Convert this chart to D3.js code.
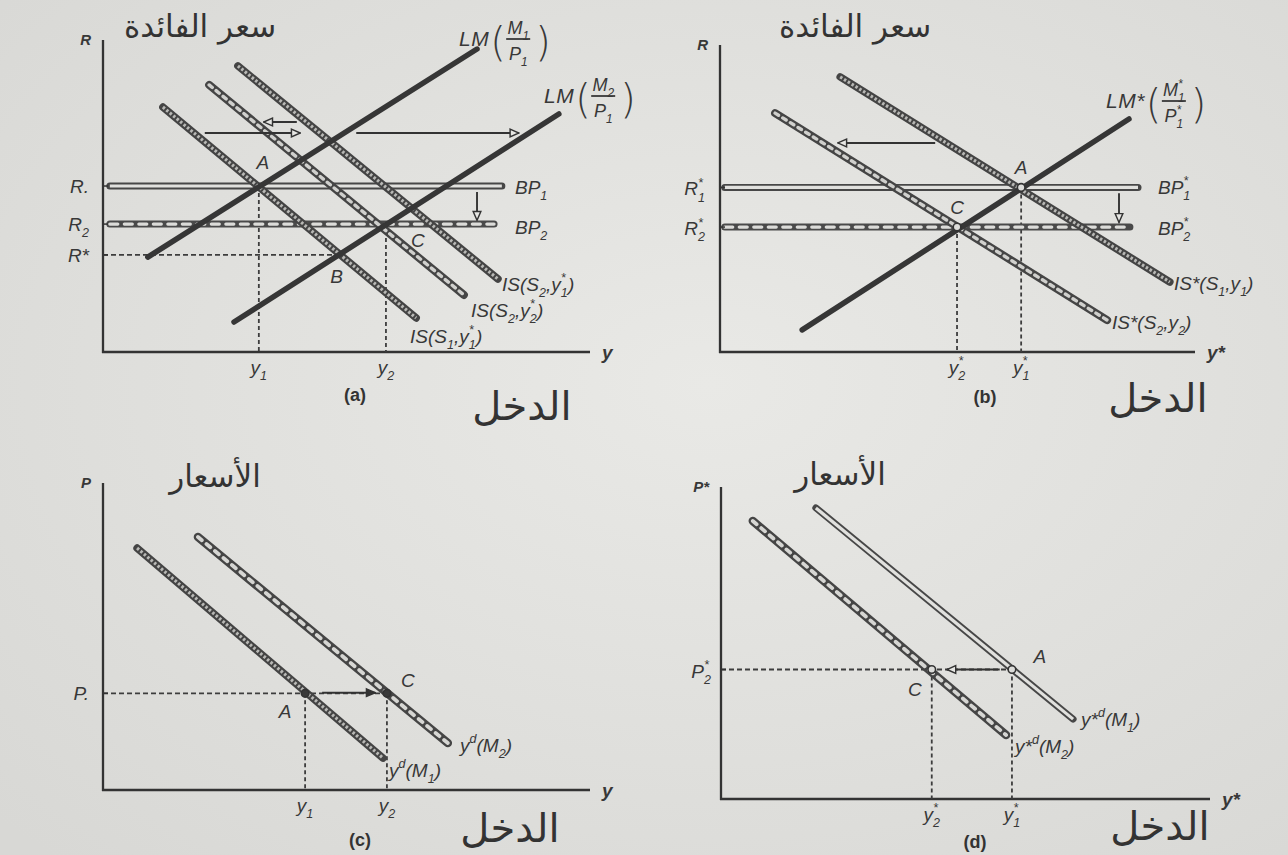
<!DOCTYPE html>
<html><head><meta charset="utf-8">
<script src="https://cdn.jsdelivr.net/npm/d3@7"></script>
<style>
html,body{margin:0;padding:0;background:#e3e3e0;}
svg{display:block;}
.lab{font-family:"Liberation Sans",Arial,sans-serif;font-style:italic;fill:#383838;}
.ar{font-family:"DejaVu Sans",sans-serif;fill:#333;}
.cap{font-family:"Liberation Sans",Arial,sans-serif;font-weight:bold;fill:#333;}
</style></head><body>
<svg id="chart" width="1288" height="855"></svg>
<script>
// ---------- Panel (a): home IS–LM–BP (income y, interest rate R) ----------
const aLM1   = [[0.92, 3.04], [7.68, 9.71]];
const aLM2   = [[2.69, 0.96], [9.36, 7.63]];
const aIS11  = [[1.23, 7.85], [6.43, 1.09]];   // IS(S1, y1*)
const aIS22  = [[2.18, 8.56], [7.41, 1.83]];   // IS(S2, y2*)
const aIS21  = [[2.77, 9.17], [8.11, 2.34]];   // IS(S2, y1*)
const aBP1   = [[0.14, 5.32], [8.19, 5.32]];
const aBP2   = [[0.14, 4.10], [8.03, 4.10]];
const aRates = [5.32, 4.10, 3.11];
const aRateLabels = ["R.", "R_2", "R*"];
const aIncomes = [3.20, 5.81];
const aIncomeLabels = ["y_1", "y_2"];
const aPoints = [["A", 3.20, 5.32], ["B", 4.86, 3.11], ["C", 5.81, 4.10]];

// ---------- Panel (b): foreign IS*–LM*–BP* ----------
const bIS1   = [[2.53, 8.96], [9.47, 2.28]];   // IS*(S1, y1)
const bIS2   = [[1.16, 7.78], [8.15, 1.04]];   // IS*(S2, y2)
const bLM    = [[1.73, 0.72], [8.61, 7.59]];
const bBP1   = [[0.10, 5.36], [8.80, 5.36]];
const bBP2   = [[0.10, 4.07], [8.63, 4.07]];
const bRates = [5.36, 4.07];
const bRateLabels = ["R_1^*", "R_2^*"];
const bIncomes = [4.99, 6.34];
const bIncomeLabels = ["y_2^*", "y_1^*"];
const bPoints = [["C", 4.99, 4.07], ["A", 6.34, 5.36]];

// ---------- Panel (c): home aggregate demand ----------
const cYd1   = [[0.70, 7.88], [5.75, 1.04]];   // y^d(M1)
const cYd2   = [[1.95, 8.24], [7.08, 1.53]];   // y^d(M2)
const cPrices = [3.15];
const cPriceLabels = ["P."];
const cIncomes = [4.15, 5.83];
const cIncomeLabels = ["y_1", "y_2"];
const cPoints = [["A", 4.15, 3.15], ["C", 5.83, 3.15]];

// ---------- Panel (d): foreign aggregate demand ----------
const dYd2   = [[0.65, 8.91], [5.83, 2.05]];   // y*d(M2)
const dYd1   = [[1.94, 9.33], [7.20, 2.56]];   // y*d(M1)
const dPrices = [4.15];
const dPriceLabels = ["P_2^*"];
const dIncomes = [4.31, 5.95];
const dIncomeLabels = ["y_2^*", "y_1^*"];
const dPoints = [["C", 4.31, 4.15], ["A", 5.95, 4.15]];

// shift arrows
const aShiftArrows = [[[2.09, 7.02], [4.05, 7.02]], [[5.20, 7.02], [8.54, 7.02]], [[3.98, 7.37], [3.30, 7.37]]];
const aBPDrop = [[7.68, 5.13], [7.68, 4.22]];
const bShiftArrows = [[[4.53, 6.81], [2.48, 6.81]]];
const bBPDrop = [[8.40, 5.17], [8.40, 4.22]];
const cShiftArrows = [[[4.50, 3.17], [5.59, 3.17]]];
const dShiftArrows = [[[5.70, 4.15], [4.62, 4.15]]];

const titleRate = "سعر الفائدة";
const titlePrice = "الأسعار";
const incomeWord = "الدخل";

// ---------------------------------------------------------------
const svg = d3.select("#chart");
const defs = svg.append("defs");

const bg = defs.append("radialGradient").attr("id", "paper").attr("cx", "55%").attr("cy", "45%").attr("r", "75%");
bg.append("stop").attr("offset", "0%").attr("stop-color", "#e9e9e6");
bg.append("stop").attr("offset", "100%").attr("stop-color", "#d8d8d5");
svg.append("rect").attr("width", 1288).attr("height", 855).attr("fill", "url(#paper)");

function marker(id, hollow) {
  defs.append("marker").attr("id", id).attr("viewBox", "0 0 10 10").attr("refX", 9).attr("refY", 5)
    .attr("markerWidth", 11).attr("markerHeight", 11).attr("markerUnits", "userSpaceOnUse").attr("orient", "auto")
    .append("path").attr("d", "M1,1.5 L9,5 L1,8.5 Z")
    .attr("fill", hollow ? "#e6e6e3" : "#333").attr("stroke", "#333").attr("stroke-width", 1.3);
}
marker("headOpen", true);
marker("headSolid", false);

// stroke recipes for the textured curves (outer casing + inner pattern)
const styles = {
  solid:  [{c: "#363636", w: 5.5}],
  hatch:  [{c: "#444", w: 7.5}, {c: "#b8b8b5", w: 3.2, dash: "2.5 2"}],
  chain:  [{c: "#454545", w: 8},   {c: "#d0d0cd", w: 3.4, dash: "4 5", cap: "round"}],
  links:  [{c: "#454545", w: 8.5}, {c: "#d6d6d3", w: 3.8, dash: "5 6", cap: "round"}],
  long:   [{c: "#4a4a4a", w: 7},   {c: "#dcdcd9", w: 3.2, dash: "8 6.5", cap: "round"}],
  double: [{c: "#474747", w: 7},   {c: "#e1e1de", w: 3.2}]
};

function panel(frame) {
  const x = d3.scaleLinear().domain([0, 10]).range([frame.x0, frame.x0 + frame.w]);
  const y = d3.scaleLinear().domain([0, 10]).range([frame.y0, frame.y0 - frame.h]);
  const g = svg.append("g");
  const line = d3.line().x(d => x(d[0])).y(d => y(d[1]));
  return {x, y, g, line, frame};
}

function axes(p, yName, xName) {
  const {x, y, g} = p;
  g.append("line").attr("x1", x(0)).attr("x2", x(0)).attr("y1", y(0) + 1).attr("y2", y(10))
    .attr("stroke", "#333").attr("stroke-width", 2.3);
  g.append("line").attr("x1", x(0) - 1).attr("x2", x(10)).attr("y1", y(0)).attr("y2", y(0))
    .attr("stroke", "#333").attr("stroke-width", 2.3);
  rich(g, x(0) - 12, y(10) + 5, yName, 15, "end").attr("font-weight", "bold");
  rich(g, x(10) + 12, y(0) + 7, xName, 19, "start").attr("font-weight", "bold");
}

// text with "_c" subscripts and "^c" superscripts (a "^" right after a subscript stacks above it)
function rich(parent, px, py, str, size, anchor) {
  const t = parent.append("text").attr("class", "lab").attr("x", px).attr("y", py)
    .attr("font-size", size).attr("text-anchor", anchor || "start");
  let off = 0, i = 0, pendingDx = 0;
  while (i < str.length) {
    const c = str[i];
    if ((c === "_" || c === "^") && i + 1 < str.length) {
      const ch = str[i + 1];
      const target = c === "_" ? size * 0.32 : -size * 0.45;
      const stacked = c === "^" && i >= 2 && str[i - 2] === "_";
      t.append("tspan").attr("dy", target - off).attr("dx", stacked ? -size * 0.37 : 0)
        .attr("font-size", size * 0.66).text(ch);
      if (stacked) pendingDx = size * 0.13;
      off = target; i += 2;
    } else {
      let j = i;
      while (j < str.length && str[j] !== "_" && str[j] !== "^") j++;
      t.append("tspan").attr("dy", -off).attr("dx", pendingDx).text(str.slice(i, j));
      off = 0; i = j; pendingDx = 0;
    }
  }
  return t;
}

function curve(p, pts, style) {
  styles[style].forEach((s, k) => {
    p.g.append("path").attr("d", p.line(pts)).attr("fill", "none")
      .attr("stroke", s.c).attr("stroke-width", s.w)
      .attr("stroke-linecap", k === 0 ? "round" : (s.cap || "butt"))
      .attr("stroke-dasharray", s.dash || null);
  });
}

function guides(p, pts, toX) {
  pts.forEach(([, vx, vy]) => {
    p.g.append("line").attr("x1", p.x(vx)).attr("x2", p.x(vx)).attr("y1", p.y(vy)).attr("y2", p.y(0))
      .attr("stroke", "#3d3d3d").attr("stroke-width", 1.8).attr("stroke-dasharray", "4 3");
  });
  if (toX) {
    const [, vx, vy] = toX;
    p.g.append("line").attr("x1", p.x(0)).attr("x2", p.x(vx)).attr("y1", p.y(vy)).attr("y2", p.y(vy))
      .attr("stroke", "#3d3d3d").attr("stroke-width", 1.8).attr("stroke-dasharray", "5 3");
  }
}

function arrows(p, list, head) {
  list.forEach(pts => {
    p.g.append("path").attr("d", p.line(pts)).attr("fill", "none").attr("stroke", "#333")
      .attr("stroke-width", 1.9).attr("marker-end", `url(#${head})`);
  });
}

function dots(p, pts, filled) {
  pts.forEach(([, vx, vy]) => {
    p.g.append("circle").attr("cx", p.x(vx)).attr("cy", p.y(vy)).attr("r", 3.8)
      .attr("fill", filled ? "#3a3a3a" : "#dcdcd9").attr("stroke", "#333").attr("stroke-width", 1.6);
  });
}

function yTicks(p, vals, labels, dx, dyOff) {
  vals.forEach((v, i) => {
    p.g.append("line").attr("x1", p.x(0)).attr("x2", p.x(0) + 5).attr("y1", p.y(v)).attr("y2", p.y(v))
      .attr("stroke", "#333").attr("stroke-width", 1.5);
    rich(p.g, p.x(0) - dx, p.y(v) + (dyOff || 7), labels[i], 19, "end");
  });
}

function xTicks(p, vals, labels, dy) {
  vals.forEach((v, i) => rich(p.g, p.x(v), p.y(0) + dy, labels[i], 19, "middle"));
}

function pointLabels(p, pts, offs) {
  pts.forEach(([name, vx, vy], i) => {
    p.g.append("text").attr("class", "lab").attr("x", p.x(vx) + offs[i][0]).attr("y", p.y(vy) + offs[i][1])
      .attr("font-size", 19).attr("text-anchor", "middle").text(name);
  });
}

// "LM(M/P)" label with large parentheses around a stacked fraction
function lmLabel(parent, px, py, head, num, den) {
  const h = rich(parent, px, py, head, 21, "start").attr("letter-spacing", 0.5);
  const w = h.node().getComputedTextLength();
  const x1 = px + w + 1;
  parent.append("text").attr("x", x1).attr("y", py + 10).attr("font-size", 40)
    .attr("font-family", "DejaVu Sans, sans-serif").attr("font-weight", 300).attr("fill", "#383838").text("(");
  const cx = x1 + 28;
  rich(parent, cx, py - 12, num, 18, "middle");
  parent.append("line").attr("x1", cx - 12).attr("x2", cx + 12).attr("y1", py - 7).attr("y2", py - 7)
    .attr("stroke", "#383838").attr("stroke-width", 1.8);
  rich(parent, cx, py + 14, den, 18, "middle");
  parent.append("text").attr("x", cx + 17).attr("y", py + 10).attr("font-size", 40)
    .attr("font-family", "DejaVu Sans, sans-serif").attr("font-weight", 300).attr("fill", "#383838").text(")");
}

function arabic(parent, px, py, str, size) {
  parent.append("text").attr("class", "ar").attr("x", px).attr("y", py).attr("font-size", size)
    .attr("text-anchor", "middle").attr("direction", "rtl").text(str);
}
function caption(parent, px, py, str) {
  parent.append("text").attr("class", "cap").attr("x", px).attr("y", py).attr("font-size", 18)
    .attr("text-anchor", "middle").text(str);
}

// ===== Panel (a) =====
const A = panel({x0: 103, y0: 352, w: 487, h: 312});
axes(A, "R", "y");
guides(A, [aPoints[0], aPoints[2]], aPoints[1]);
curve(A, aBP1, "double");
curve(A, aBP2, "long");
curve(A, aIS11, "hatch");
curve(A, aIS22, "chain");
curve(A, aIS21, "hatch");
curve(A, aLM1, "solid");
curve(A, aLM2, "solid");
arrows(A, aShiftArrows, "headOpen");
arrows(A, [aBPDrop], "headOpen");
yTicks(A, aRates, aRateLabels, 14);
xTicks(A, aIncomes, aIncomeLabels, 22);
pointLabels(A, aPoints, [[4, -17], [-3, 28], [32, 23]]);
rich(A.g, 515, 194, "BP_1", 19);
rich(A.g, 515, 234, "BP_2", 19);
rich(A.g, 502, 291, "IS(S_2,y_1^*)", 19);
rich(A.g, 471, 317, "IS(S_2,y_2^*)", 19);
rich(A.g, 410, 343, "IS(S_1,y_1^*)", 19);
lmLabel(A.g, 459, 46, "LM", "M_1", "P_1");
lmLabel(A.g, 544, 103, "LM", "M_2", "P_1");
arabic(A.g, 200, 37, titleRate, 31);
arabic(A.g, 522, 420, incomeWord, 40);
caption(A.g, 355, 401, "(a)");

// ===== Panel (b) =====
const B = panel({x0: 720, y0: 352, w: 475, h: 307});
axes(B, "R", "y*");
guides(B, bPoints, null);
curve(B, bBP1, "double");
curve(B, bBP2, "long");
curve(B, bIS1, "hatch");
curve(B, bIS2, "chain");
curve(B, bLM, "solid");
dots(B, bPoints, false);
arrows(B, bShiftArrows, "headOpen");
arrows(B, [bBPDrop], "headOpen");
yTicks(B, bRates, bRateLabels, 15, 8);
xTicks(B, bIncomes, bIncomeLabels, 22);
pointLabels(B, bPoints, [[0, -13], [0, -13]]);
rich(B.g, 1158, 194, "BP_1^*", 19);
rich(B.g, 1158, 235, "BP_2^*", 19);
rich(B.g, 1174, 290, "IS*(S_1,y_1)", 19);
rich(B.g, 1112, 329, "IS*(S_2,y_2)", 19);
lmLabel(B.g, 1106, 108, "LM*", "M_1^*", "P_1^*");
arabic(B.g, 855, 37, titleRate, 31);
arabic(B.g, 1158, 412, incomeWord, 40);
caption(B.g, 985, 403, "(b)");

// ===== Panel (c) =====
const C = panel({x0: 103, y0: 790, w: 487, h: 307});
axes(C, "P", "y");
guides(C, cPoints, cPoints[1]);
curve(C, cYd1, "hatch");
curve(C, cYd2, "links");
dots(C, cPoints, true);
arrows(C, cShiftArrows, "headSolid");
yTicks(C, cPrices, cPriceLabels, 14);
xTicks(C, cIncomes, cIncomeLabels, 22);
pointLabels(C, cPoints, [[-20, 25], [21, -6]]);
rich(C.g, 460, 752, "y^d(M_2)", 19);
rich(C.g, 389, 777, "y^d(M_1)", 19);
arabic(C.g, 215, 487, titlePrice, 31);
arabic(C.g, 510, 842, incomeWord, 40);
caption(C.g, 360, 846, "(c)");

// ===== Panel (d) =====
const D = panel({x0: 721, y0: 799, w: 489, h: 312});
axes(D, "P*", "y*");
guides(D, dPoints, dPoints[1]);
curve(D, dYd2, "links");
curve(D, dYd1, "double");
dots(D, dPoints, false);
arrows(D, dShiftArrows, "headOpen");
yTicks(D, dPrices, dPriceLabels, 10, 8);
xTicks(D, dIncomes, dIncomeLabels, 22);
pointLabels(D, dPoints, [[-17, 26], [28, -7]]);
rich(D.g, 1081, 726, "y*^d(M_1)", 19);
rich(D.g, 1015, 753, "y*^d(M_2)", 19);
arabic(D.g, 840, 485, titlePrice, 31);
arabic(D.g, 1160, 840, incomeWord, 40);
caption(D.g, 975, 848, "(d)");
</script>
</body></html>
